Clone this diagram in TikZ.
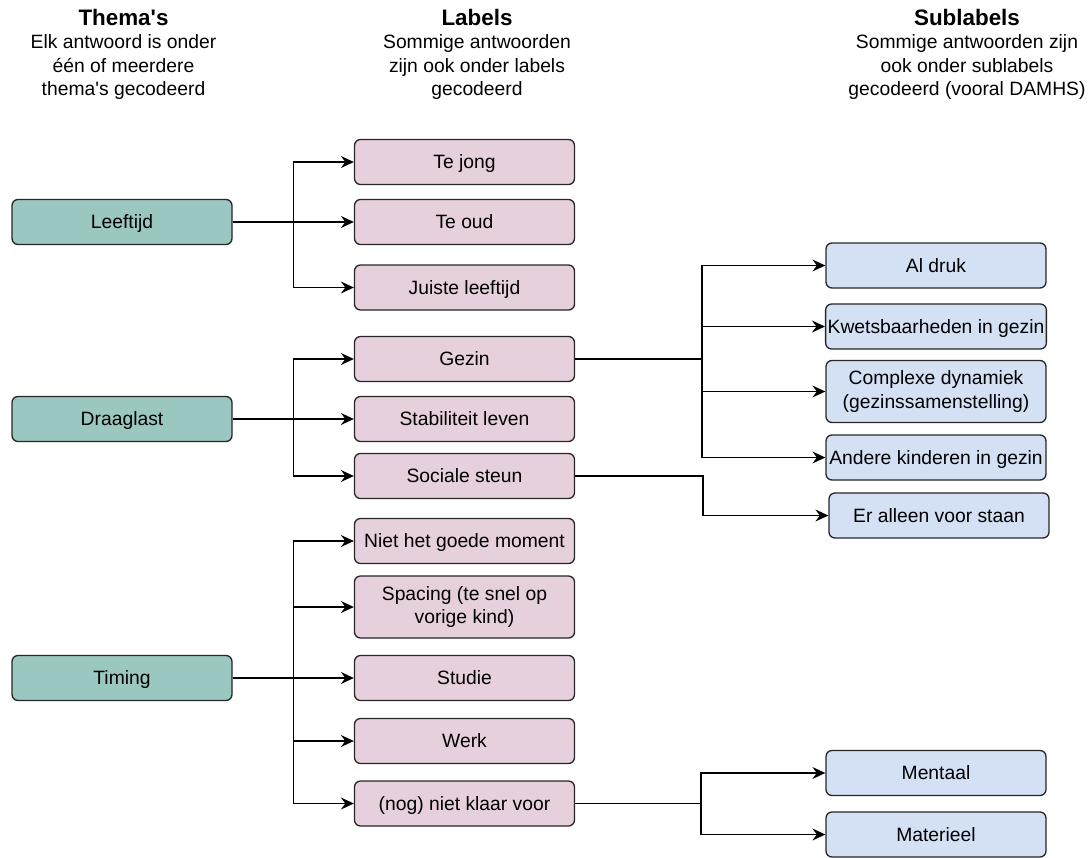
\documentclass[tikz,border=0pt]{standalone}
\usepackage{fontspec}
\setmainfont{Liberation Sans}
\usetikzlibrary{arrows.meta,positioning}
\definecolor{themagreen}{HTML}{9AC7BF}
\definecolor{labelpink}{HTML}{E6D0DE}
\definecolor{sublblue}{HTML}{D4E1F5}

\begin{document}
\begin{tikzpicture}[x=1pt,y=-1pt]
\tikzstyle{box} = [draw=black!85, line width=1.3pt, rounded corners=6pt, minimum width=220pt, minimum height=45pt, inner sep=2pt, align=center, text height=17.5pt, text depth=4.1pt, font=\fontsize{19.3}{23.2}\selectfont]
\tikzstyle{twolines} = [minimum height=62pt, text height=, text depth=]
\tikzstyle{themabox} = [box, fill=themagreen]
\tikzstyle{lblbox} = [box, fill=labelpink]
\tikzstyle{subbox} = [box, fill=sublblue]
\tikzstyle{head} = [anchor=north, inner sep=0pt, align=center, font=\fontsize{19.3}{23.5}\selectfont]
\tikzstyle{arr} = [-{Stealth[length=13pt,width=12pt,inset=4.5pt]}, line width=1.4pt]
\tikzstyle{conn} = [line width=1.4pt]
\useasboundingbox (0,0) rectangle (1092,857);

% koppen
\node[head] (hthema) at (123.5,9) {{\bfseries\fontsize{22.4}{26}\selectfont Thema\textquotesingle s}\\Elk antwoord is onder\\één of meerdere\\thema\textquotesingle s gecodeerd};
\node[head] (hlabel) at (477,9) {{\bfseries\fontsize{22.4}{26}\selectfont Labels}\\Sommige antwoorden\\zijn ook onder labels\\gecodeerd};
\node[head] (hsub) at (967,9) {{\bfseries\fontsize{22.4}{26}\selectfont Sublabels}\\Sommige antwoorden zijn\\ook onder sublabels\\gecodeerd (vooral DAMHS)};

% thema's
\node[themabox] (leeftijd) at (122,222) {Leeftijd};
\node[themabox] (draaglast) at (122,419) {Draaglast};
\node[themabox] (timing) at (122,678) {Timing};

% labels
\node[lblbox] (tejong) at (464.5,162) {Te jong};
\node[lblbox] (teoud) at (464.5,222) {Te oud};
\node[lblbox] (juist) at (464.5,287.5) {Juiste leeftijd};
\node[lblbox] (gezin) at (464.5,359) {Gezin};
\node[lblbox] (stabiel) at (464.5,419) {Stabiliteit leven};
\node[lblbox] (sociaal) at (464.5,476) {Sociale steun};
\node[lblbox] (moment) at (464.5,541) {Niet het goede moment};
\node[lblbox, twolines] (spacing) at (464.5,607) {Spacing (te snel op\\vorige kind)};
\node[lblbox] (studie) at (464.5,678) {Studie};
\node[lblbox] (werk) at (464.5,741) {Werk};
\node[lblbox] (klaar) at (464.5,803.5) {(nog) niet klaar voor};

% sublabels
\node[subbox] (aldruk) at (936,265.5) {Al druk};
\node[subbox] (kwets) at (936,326.5) {Kwetsbaarheden in gezin};
\node[subbox, twolines] (complex) at (936,391.5) {Complexe dynamiek\\(gezinssamenstelling)};
\node[subbox] (andere) at (936,457.5) {Andere kinderen in gezin};
\node[subbox] (alleen) at (939,515.5) {Er alleen voor staan};
\node[subbox] (mentaal) at (936,773) {Mentaal};
\node[subbox] (materieel) at (936,834.5) {Materieel};

% vertakkingen
\coordinate (bleef) at ([xshift=61pt]leeftijd.east);
\coordinate (bdraag) at ([xshift=61pt]draaglast.east);
\coordinate (btime) at ([xshift=61pt]timing.east);
\coordinate (bgezin) at ([xshift=127pt]gezin.east);
\coordinate (bsoc) at ([xshift=128pt]sociaal.east);
\coordinate (bklaar) at ([xshift=126pt]klaar.east);

\draw[arr] (leeftijd.east) -- (teoud.west);
\draw[arr] (bleef) |- (tejong.west);
\draw[arr] (bleef) |- (juist.west);

\draw[arr] (draaglast.east) -- (stabiel.west);
\draw[arr] (bdraag) |- (gezin.west);
\draw[arr] (bdraag) |- (sociaal.west);

\draw[arr] (timing.east) -- (studie.west);
\foreach \t in {moment,spacing,werk,klaar}
  \draw[arr] (btime) |- (\t.west);

\draw[conn] (gezin.east) -- (bgezin);
\foreach \t in {aldruk,kwets,complex,andere}
  \draw[arr] (bgezin) |- (\t.west);

\draw[arr] (sociaal.east) -- (bsoc) |- (alleen.west);

\draw[conn] (klaar.east) -- (bklaar);
\draw[arr] (bklaar) |- (mentaal.west);
\draw[arr] (bklaar) |- (materieel.west);
\end{tikzpicture}
\end{document}
